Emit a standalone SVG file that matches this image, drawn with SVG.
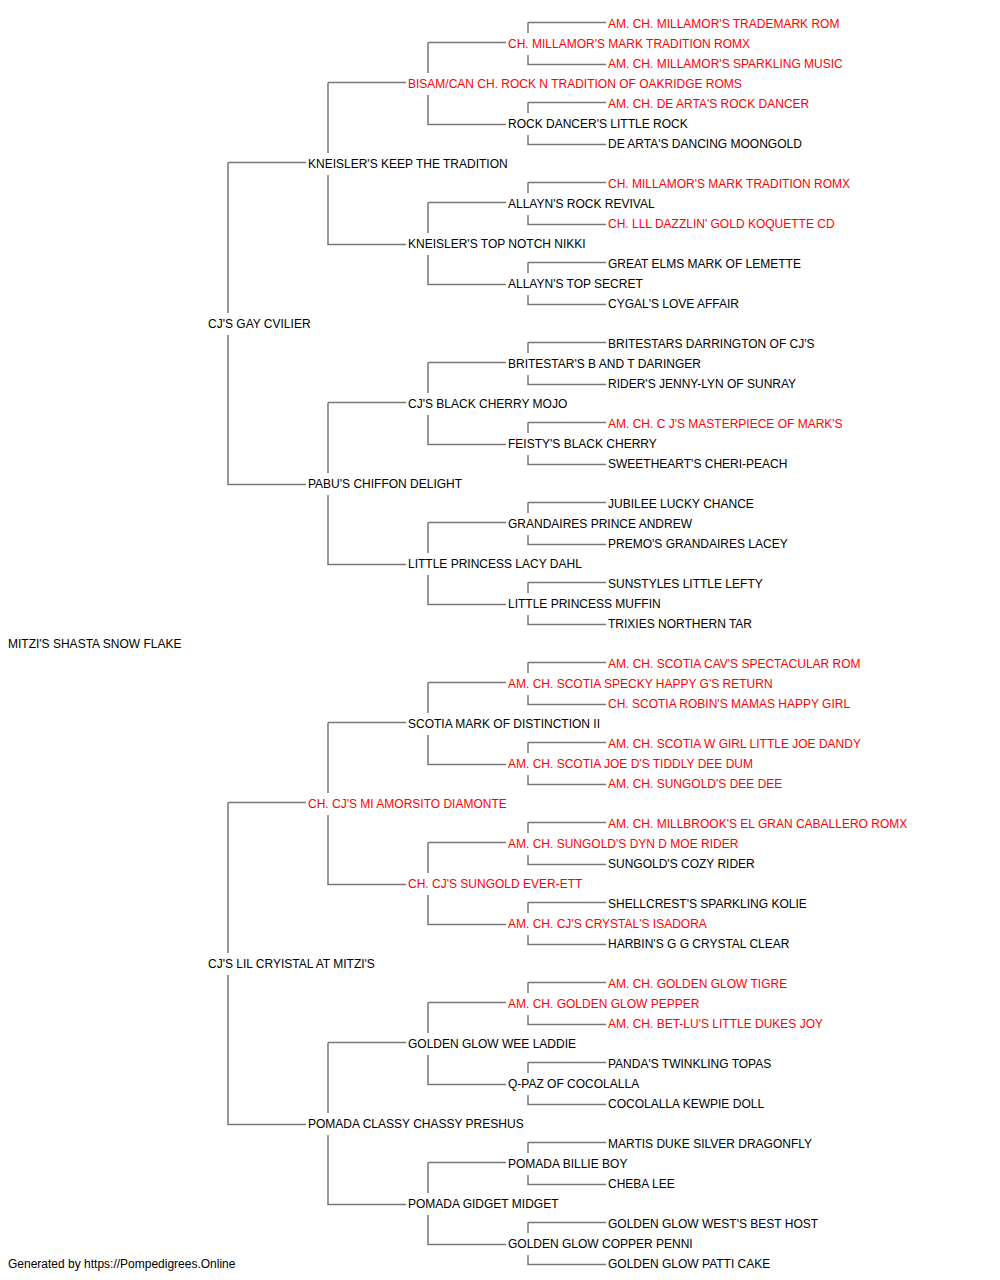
<svg xmlns="http://www.w3.org/2000/svg" width="1000" height="1280" viewBox="0 0 1000 1280">
<style>
text{font-family:"Liberation Sans",Arial,Helvetica,sans-serif;font-size:12px;fill:#000}
.r{fill:#ff0000}
#connectors path{fill:none;stroke:#777;stroke-width:1.5}
</style>
<rect width="1000" height="1280" fill="#fff"/>
<g id="connectors">
<path d="M228 162.5H306M228 162.5V313M228 335V484.5H306"/>
<path d="M228 802.5H306M228 802.5V953M228 975V1124.5H306"/>
<path d="M328 82.5H406M328 82.5V153M328 175V244.5H406"/>
<path d="M328 402.5H406M328 402.5V473M328 495V564.5H406"/>
<path d="M328 722.5H406M328 722.5V793M328 815V884.5H406"/>
<path d="M328 1042.5H406M328 1042.5V1113M328 1135V1204.5H406"/>
<path d="M428 42.5H506M428 42.5V73M428 95V124.5H506"/>
<path d="M428 202.5H506M428 202.5V233M428 255V284.5H506"/>
<path d="M428 362.5H506M428 362.5V393M428 415V444.5H506"/>
<path d="M428 522.5H506M428 522.5V553M428 575V604.5H506"/>
<path d="M428 682.5H506M428 682.5V713M428 735V764.5H506"/>
<path d="M428 842.5H506M428 842.5V873M428 895V924.5H506"/>
<path d="M428 1002.5H506M428 1002.5V1033M428 1055V1084.5H506"/>
<path d="M428 1162.5H506M428 1162.5V1193M428 1215V1244.5H506"/>
<path d="M528 22.5H606M528 22.5V33M528 55V64.5H606"/>
<path d="M528 102.5H606M528 102.5V113M528 135V144.5H606"/>
<path d="M528 182.5H606M528 182.5V193M528 215V224.5H606"/>
<path d="M528 262.5H606M528 262.5V273M528 295V304.5H606"/>
<path d="M528 342.5H606M528 342.5V353M528 375V384.5H606"/>
<path d="M528 422.5H606M528 422.5V433M528 455V464.5H606"/>
<path d="M528 502.5H606M528 502.5V513M528 535V544.5H606"/>
<path d="M528 582.5H606M528 582.5V593M528 615V624.5H606"/>
<path d="M528 662.5H606M528 662.5V673M528 695V704.5H606"/>
<path d="M528 742.5H606M528 742.5V753M528 775V784.5H606"/>
<path d="M528 822.5H606M528 822.5V833M528 855V864.5H606"/>
<path d="M528 902.5H606M528 902.5V913M528 935V944.5H606"/>
<path d="M528 982.5H606M528 982.5V993M528 1015V1024.5H606"/>
<path d="M528 1062.5H606M528 1062.5V1073M528 1095V1104.5H606"/>
<path d="M528 1142.5H606M528 1142.5V1153M528 1175V1184.5H606"/>
<path d="M528 1222.5H606M528 1222.5V1233M528 1255V1264.5H606"/>
</g>
<g id="n0"><text class="r" x="608" y="28">AM. CH. MILLAMOR'S TRADEMARK ROM</text></g>
<g id="n1"><text class="r" x="508" y="48">CH. MILLAMOR'S MARK TRADITION ROMX</text></g>
<g id="n2"><text class="r" x="608" y="68">AM. CH. MILLAMOR'S SPARKLING MUSIC</text></g>
<g id="n3"><text class="r" x="408" y="88">BISAM/CAN CH. ROCK N TRADITION OF OAKRIDGE ROMS</text></g>
<g id="n4"><text class="r" x="608" y="108">AM. CH. DE ARTA'S ROCK DANCER</text></g>
<g id="n5"><text x="508" y="128">ROCK DANCER'S LITTLE ROCK</text></g>
<g id="n6"><text x="608" y="148">DE ARTA'S DANCING MOONGOLD</text></g>
<g id="n7"><text x="308" y="168">KNEISLER'S KEEP THE TRADITION</text></g>
<g id="n8"><text class="r" x="608" y="188">CH. MILLAMOR'S MARK TRADITION ROMX</text></g>
<g id="n9"><text x="508" y="208">ALLAYN'S ROCK REVIVAL</text></g>
<g id="n10"><text class="r" x="608" y="228">CH. LLL DAZZLIN' GOLD KOQUETTE CD</text></g>
<g id="n11"><text x="408" y="248">KNEISLER'S TOP NOTCH NIKKI</text></g>
<g id="n12"><text x="608" y="268">GREAT ELMS MARK OF LEMETTE</text></g>
<g id="n13"><text x="508" y="288">ALLAYN'S TOP SECRET</text></g>
<g id="n14"><text x="608" y="308">CYGAL'S LOVE AFFAIR</text></g>
<g id="n15"><text x="208" y="328">CJ'S GAY CVILIER</text></g>
<g id="n16"><text x="608" y="348">BRITESTARS DARRINGTON OF CJ'S</text></g>
<g id="n17"><text x="508" y="368">BRITESTAR'S B AND T DARINGER</text></g>
<g id="n18"><text x="608" y="388">RIDER'S JENNY-LYN OF SUNRAY</text></g>
<g id="n19"><text x="408" y="408">CJ'S BLACK CHERRY MOJO</text></g>
<g id="n20"><text class="r" x="608" y="428">AM. CH. C J'S MASTERPIECE OF MARK'S</text></g>
<g id="n21"><text x="508" y="448">FEISTY'S BLACK CHERRY</text></g>
<g id="n22"><text x="608" y="468">SWEETHEART'S CHERI-PEACH</text></g>
<g id="n23"><text x="308" y="488">PABU'S CHIFFON DELIGHT</text></g>
<g id="n24"><text x="608" y="508">JUBILEE LUCKY CHANCE</text></g>
<g id="n25"><text x="508" y="528">GRANDAIRES PRINCE ANDREW</text></g>
<g id="n26"><text x="608" y="548">PREMO'S GRANDAIRES LACEY</text></g>
<g id="n27"><text x="408" y="568">LITTLE PRINCESS LACY DAHL</text></g>
<g id="n28"><text x="608" y="588">SUNSTYLES LITTLE LEFTY</text></g>
<g id="n29"><text x="508" y="608">LITTLE PRINCESS MUFFIN</text></g>
<g id="n30"><text x="608" y="628">TRIXIES NORTHERN TAR</text></g>
<g id="n31"><text x="8" y="648">MITZI'S SHASTA SNOW FLAKE</text></g>
<g id="n32"><text class="r" x="608" y="668">AM. CH. SCOTIA CAV'S SPECTACULAR ROM</text></g>
<g id="n33"><text class="r" x="508" y="688">AM. CH. SCOTIA SPECKY HAPPY G'S RETURN</text></g>
<g id="n34"><text class="r" x="608" y="708">CH. SCOTIA ROBIN'S MAMAS HAPPY GIRL</text></g>
<g id="n35"><text x="408" y="728">SCOTIA MARK OF DISTINCTION II</text></g>
<g id="n36"><text class="r" x="608" y="748">AM. CH. SCOTIA W GIRL LITTLE JOE DANDY</text></g>
<g id="n37"><text class="r" x="508" y="768">AM. CH. SCOTIA JOE D'S TIDDLY DEE DUM</text></g>
<g id="n38"><text class="r" x="608" y="788">AM. CH. SUNGOLD'S DEE DEE</text></g>
<g id="n39"><text class="r" x="308" y="808">CH. CJ'S MI AMORSITO DIAMONTE</text></g>
<g id="n40"><text class="r" x="608" y="828">AM. CH. MILLBROOK'S EL GRAN CABALLERO ROMX</text></g>
<g id="n41"><text class="r" x="508" y="848">AM. CH. SUNGOLD'S DYN D MOE RIDER</text></g>
<g id="n42"><text x="608" y="868">SUNGOLD'S COZY RIDER</text></g>
<g id="n43"><text class="r" x="408" y="888">CH. CJ'S SUNGOLD EVER-ETT</text></g>
<g id="n44"><text x="608" y="908">SHELLCREST'S SPARKLING KOLIE</text></g>
<g id="n45"><text class="r" x="508" y="928">AM. CH. CJ'S CRYSTAL'S ISADORA</text></g>
<g id="n46"><text x="608" y="948">HARBIN'S G G CRYSTAL CLEAR</text></g>
<g id="n47"><text x="208" y="968">CJ'S LIL CRYISTAL AT MITZI'S</text></g>
<g id="n48"><text class="r" x="608" y="988">AM. CH. GOLDEN GLOW TIGRE</text></g>
<g id="n49"><text class="r" x="508" y="1008">AM. CH. GOLDEN GLOW PEPPER</text></g>
<g id="n50"><text class="r" x="608" y="1028">AM. CH. BET-LU'S LITTLE DUKES JOY</text></g>
<g id="n51"><text x="408" y="1048">GOLDEN GLOW WEE LADDIE</text></g>
<g id="n52"><text x="608" y="1068">PANDA'S TWINKLING TOPAS</text></g>
<g id="n53"><text x="508" y="1088">Q-PAZ OF COCOLALLA</text></g>
<g id="n54"><text x="608" y="1108">COCOLALLA KEWPIE DOLL</text></g>
<g id="n55"><text x="308" y="1128">POMADA CLASSY CHASSY PRESHUS</text></g>
<g id="n56"><text x="608" y="1148">MARTIS DUKE SILVER DRAGONFLY</text></g>
<g id="n57"><text x="508" y="1168">POMADA BILLIE BOY</text></g>
<g id="n58"><text x="608" y="1188">CHEBA LEE</text></g>
<g id="n59"><text x="408" y="1208">POMADA GIDGET MIDGET</text></g>
<g id="n60"><text x="608" y="1228">GOLDEN GLOW WEST'S BEST HOST</text></g>
<g id="n61"><text x="508" y="1248">GOLDEN GLOW COPPER PENNI</text></g>
<g id="n62"><text x="608" y="1268">GOLDEN GLOW PATTI CAKE</text></g>
<g id="footer"><text x="8" y="1268">Generated by https://Pompedigrees.Online</text></g>
</svg>
